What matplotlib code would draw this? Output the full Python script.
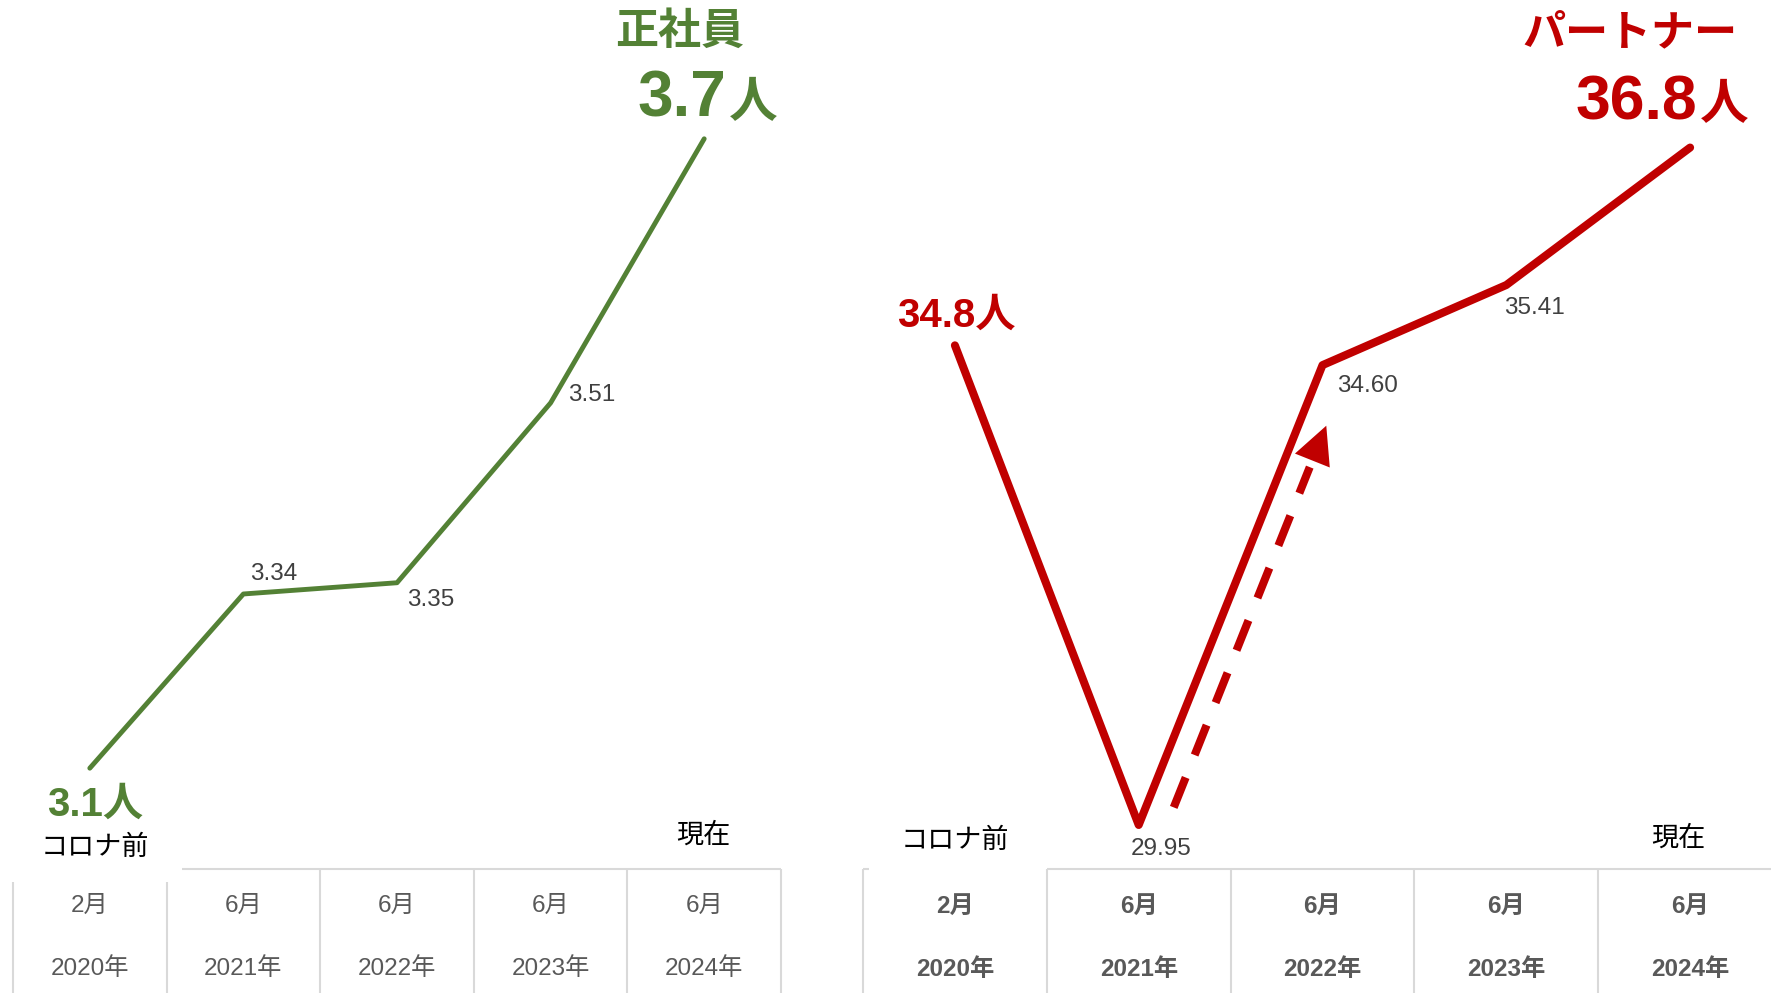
import matplotlib

matplotlib.use("Agg")
import matplotlib.pyplot as plt
import matplotlib.transforms as mtransforms
from matplotlib.patches import FancyArrowPatch

plt.rcParams["font.family"] = ["Liberation Sans", "Noto Sans CJK JP", "DejaVu Sans"]

W, H = 1771, 993

# data
months = ["2月", "6月", "6月", "6月", "6月"]
years = ["2020年", "2021年", "2022年", "2023年", "2024年"]

seishain = [3.185, 3.34, 3.35, 3.51, 3.745]
seishain_labels = ["3.1", "3.34", "3.35", "3.51", "3.7"]
partner = [34.8, 29.95, 34.60, 35.41, 36.8]
partner_labels = ["34.8", "29.95", "34.60", "35.41", "36.8"]

GREEN = "#538135"
RED = "#c00000"
LABEL = "#404040"
TABLE_TXT = "#595959"
GRID = "#d9d9d9"


def fx(px):
    return px / W


def fy(py):
    return 1 - py / H


fig = plt.figure(figsize=(W / 100, H / 100), dpi=100)

# ---- line axes
ax_l = fig.add_axes([fx(13), 124 / H, 768 / W, 869 / H])
ax_l.set_xlim(-0.5, 4.5)
ax_l.set_ylim(3.0953, 3.8685)
ax_r = fig.add_axes([fx(863), 124 / H, 919 / W, 869 / H])
ax_r.set_xlim(-0.5, 4.5)
ax_r.set_ylim(29.505, 38.292)
for ax in (ax_l, ax_r):
    ax.axis("off")

xs = list(range(len(months)))
ax_l.plot(xs, seishain, color=GREEN, lw=3.5, solid_capstyle="round", clip_on=False)
ax_r.plot(xs, partner, color=RED, lw=5.8, solid_capstyle="round", clip_on=False)

# small value labels (offsets in pixels)
small_l = {1: (30, 20), 2: (34, -17), 3: (41, 8)}
for i, off in small_l.items():
    ax_l.annotate(seishain_labels[i], (xs[i], seishain[i]), xytext=off,
                  textcoords="offset pixels", ha="center", va="center",
                  fontsize=17.5, color=LABEL)
small_r = {1: (22, -24), 2: (45, -21), 3: (28, -23)}
for i, off in small_r.items():
    ax_r.annotate(partner_labels[i], (xs[i], partner[i]), xytext=off,
                  textcoords="offset pixels", ha="center", va="center",
                  fontsize=17.5, color=LABEL)

# start labels
ax_l.annotate(seishain_labels[0] + "人", (xs[0], seishain[0]), xytext=(5, -48),
              textcoords="offset pixels", ha="center", va="baseline",
              fontsize=29, fontweight="bold", color=GREEN)
ax_r.annotate(partner_labels[0] + "人", (xs[0], partner[0]), xytext=(1, 19),
              textcoords="offset pixels", ha="center", va="baseline",
              fontsize=29, fontweight="bold", color=RED)

# end labels (big number + smaller 人)
ax_l.annotate(seishain_labels[4], (xs[4], seishain[4]), xytext=(22, 22),
              textcoords="offset pixels", ha="right", va="baseline",
              fontsize=46, fontweight="bold", color=GREEN)
ax_l.annotate("人", (xs[4], seishain[4]), xytext=(25, 22),
              textcoords="offset pixels", ha="left", va="baseline",
              fontsize=35, fontweight="bold", color=GREEN)
ax_r.annotate(partner_labels[4], (xs[4], partner[4]), xytext=(7, 28),
              textcoords="offset pixels", ha="right", va="baseline",
              fontsize=45, fontweight="bold", color=RED)
ax_r.annotate("人", (xs[4], partner[4]), xytext=(10, 28),
              textcoords="offset pixels", ha="left", va="baseline",
              fontsize=35, fontweight="bold", color=RED)

# titles
fig.text(fx(680), fy(32), "正社員", ha="center", va="center",
         fontsize=31, fontweight="bold", color=GREEN)
fig.text(fx(1630), fy(34), "パートナー", ha="center", va="center",
         fontsize=31, fontweight="bold", color=RED)

# コロナ前 / 現在
fig.text(fx(95), fy(848), "コロナ前", ha="center", va="center", fontsize=19.5, color="black")
fig.text(fx(703), fy(836), "現在", ha="center", va="center", fontsize=19.5, color="black")
fig.text(fx(955), fy(841), "コロナ前", ha="center", va="center", fontsize=19.5, color="black")
fig.text(fx(1678), fy(839), "現在", ha="center", va="center", fontsize=19.5, color="black")

# dashed recovery arrow, parallel to the 2021->2022 segment
shift = mtransforms.offset_copy(ax_r.transData, fig=fig, x=24, y=-10, units="dots")


def along(t):
    return (xs[1] + (xs[2] - xs[1]) * t, partner[1] + (partner[2] - partner[1]) * t)


p0, p1 = along(0.06), along(0.80)
ax_r.plot([p0[0], p1[0]], [p0[1], p1[1]], color=RED, lw=5.8,
          linestyle=(0, (4, 3)), solid_capstyle="butt", transform=shift, clip_on=False)
head = FancyArrowPatch(along(0.79), along(0.89), transform=shift,
                       arrowstyle="-|>,head_length=27,head_width=13.5",
                       mutation_scale=1, shrinkA=0, shrinkB=0,
                       color=RED, lw=0, clip_on=False)
ax_r.add_patch(head)

# ---- tables
tab_l = fig.add_axes([fx(13), 0, 768 / W, 124 / H])
tab_r = fig.add_axes([fx(863), 0, 919 / W, 124 / H])
for tab in (tab_l, tab_r):
    tab.set_xlim(-0.5, 4.5)
    tab.set_ylim(124, 0)
    tab.axis("off")

line_kw = dict(color=GRID, lw=1.5, clip_on=False, solid_capstyle="butt")
tab_l.plot([0.6, 4.5], [0, 0], **line_kw)
for b in (-0.5, 0.5):
    tab_l.plot([b, b], [13, 124], **line_kw)
for b in (1.5, 2.5, 3.5, 4.5):
    tab_l.plot([b, b], [0, 124], **line_kw)

tab_r.plot([0.5, 4.6], [0, 0], **line_kw)
tab_r.plot([-0.5, -0.47], [0, 0], **line_kw)
for b in (-0.5, 0.5, 1.5, 2.5, 3.5):
    tab_r.plot([b, b], [0, 124], **line_kw)

for i in xs:
    tab_l.text(i, 37, months[i], ha="center", va="center", fontsize=17.5, color=TABLE_TXT)
    tab_l.text(i, 100, years[i], ha="center", va="center", fontsize=17.5, color=TABLE_TXT)
    tab_r.text(i, 37, months[i], ha="center", va="center", fontsize=17.5,
               fontweight="bold", color=TABLE_TXT)
    tab_r.text(i, 100, years[i], ha="center", va="center", fontsize=17.5,
               fontweight="bold", color=TABLE_TXT)

fig.savefig("out.png", dpi=100)
